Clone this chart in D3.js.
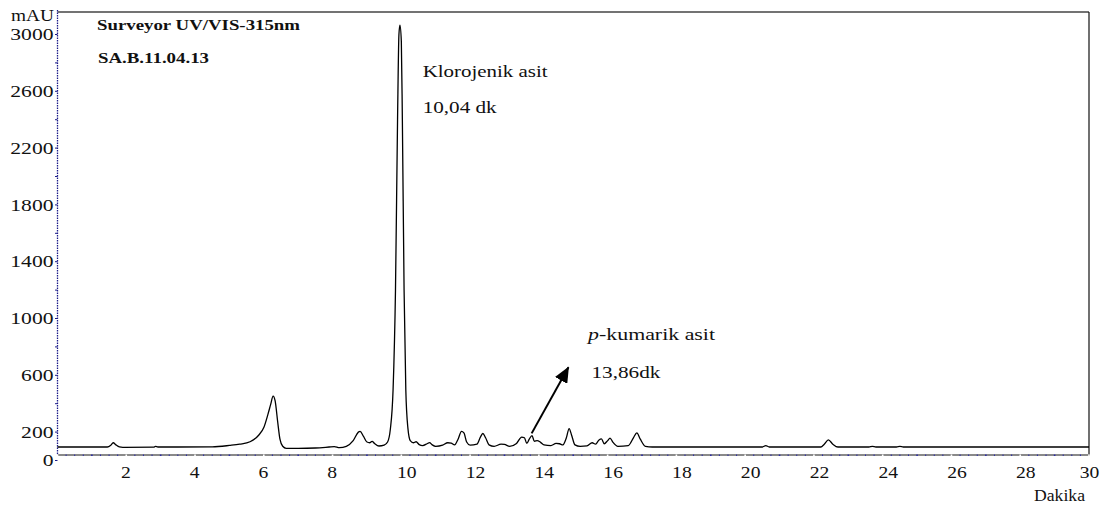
<!DOCTYPE html>
<html>
<head>
<meta charset="utf-8">
<script src="https://cdn.jsdelivr.net/npm/d3@7"></script>
<style>
  html, body { margin: 0; padding: 0; background: #fff; }
  svg text { font-family: "Liberation Serif", "Times New Roman", serif; fill: #111; }
</style>
</head>
<body>
<svg id="chart" width="1104" height="509"></svg>
<script>
// Kromatogram verisi (dakika, mAU)
const times = [0, 1.45, 1.55, 1.62, 1.7, 1.8, 1.9, 2.8, 2.85, 2.92, 3.5, 4.5,
  5.0, 5.3, 5.6, 5.85, 6.0, 6.12, 6.2, 6.27, 6.33, 6.4, 6.47, 6.55, 6.65, 7.0, 7.5,
  7.9, 8.05, 8.2, 8.4, 8.6, 8.75, 8.8, 8.9, 9.0, 9.08, 9.15, 9.22, 9.35, 9.5,
  9.6, 9.68, 9.76, 9.83, 9.89, 9.93, 9.96, 10.0, 10.03, 10.08, 10.13, 10.19, 10.26,
  10.35, 10.43, 10.52, 10.62, 10.75, 10.82, 10.9, 11.0, 11.2, 11.35, 11.45, 11.55,
  11.65, 11.75, 11.82, 11.9, 12.0, 12.2, 12.3, 12.37, 12.45, 12.55, 12.7, 12.9, 13.0,
  13.15, 13.35, 13.5, 13.58, 13.65, 13.72, 13.8, 13.87, 13.95, 14.05, 14.15, 14.35,
  14.5, 14.6, 14.7, 14.8, 14.88, 14.95, 15.05, 15.2, 15.4, 15.55, 15.65, 15.75, 15.82,
  15.9, 16.0, 16.07, 16.15, 16.3, 16.6, 16.75, 16.85, 16.95, 17.1, 17.3, 18.0, 19.0,
  20.5, 20.6, 20.7, 21.5, 22.2, 22.3, 22.42, 22.55, 22.7, 23.6, 23.7, 23.8, 24.4,
  24.5, 24.6, 30];
const mAU = [95, 95, 108, 125, 110, 96, 93, 94, 100, 95, 95, 96,
  106, 115, 132, 178, 232, 325, 395, 454, 420, 280, 150, 100, 86, 86, 88,
  95, 98, 90, 100, 140, 200, 205, 170, 130, 125, 135, 120, 102, 108,
  130, 220, 500, 1200, 2400, 3000, 3065, 2950, 2400, 1200, 500, 230, 140,
  125, 132, 112, 105, 118, 126, 110, 100, 108, 125, 122, 110,
  150, 205, 195, 130, 108, 115, 165, 190, 160, 110, 100, 115, 113,
  100, 120, 165, 160, 120, 150, 175, 135, 140, 128, 110, 105,
  120, 118, 110, 160, 225, 180, 110, 100, 103, 125, 115, 145, 152,
  118, 140, 158, 130, 100, 105, 160, 195, 150, 100, 95, 95, 95,
  95, 105, 95, 95, 95, 115, 145, 115, 95, 95, 99, 95, 95,
  99, 95, 95];

const xTicks = [2, 4, 6, 8, 10, 12, 14, 16, 18, 20, 22, 24, 26, 28, 30];
const yTicks = [0, 200, 600, 1000, 1400, 1800, 2200, 2600, 3000];
const yMinor = d3.range(0, 3001, 200);

const titleLines = ["Surveyor UV/VIS-315nm", "SA.B.11.04.13"];
const peakLabels = [
  { t: 10.62, v: 2700, lines: ["Klorojenik asit"] },
  { t: 10.62, v: 2447, lines: ["10,04 dk"] }
];
const arrowFrom = [13.79, 191];
const arrowTo = [14.86, 656];

const svg = d3.select("#chart");
const plotLeft = 57.5, plotRight = 1089, plotTop = 12, axisY = 455;

const x = d3.scaleLinear().domain([0, 30]).range([plotLeft, plotRight]);
const y = d3.scaleLinear().domain([0, 3000]).range([460.5, 34.5]);

// text genisligini resimdeki gibi ayarla
function stretch(sel, w) {
  sel.attr("textLength", w).attr("lengthAdjust", "spacingAndGlyphs");
}

// cerceve
svg.append("line")
  .attr("x1", plotLeft).attr("x2", plotRight).attr("y1", plotTop).attr("y2", plotTop)
  .attr("stroke", "#444").attr("stroke-width", 1.5);
svg.append("line")
  .attr("x1", plotRight).attr("x2", plotRight).attr("y1", plotTop).attr("y2", axisY)
  .attr("stroke", "#111").attr("stroke-width", 1.2);

// x ekseni
svg.append("line")
  .attr("x1", plotLeft).attr("x2", plotRight + 1).attr("y1", axisY).attr("y2", axisY)
  .attr("stroke", "#8a8a8a").attr("stroke-width", 2);
svg.append("g").selectAll("line")
  .data(d3.range(0, 30.01, 0.25))
  .enter().append("line")
  .attr("x1", d => x(d)).attr("x2", d => x(d))
  .attr("y1", axisY - 0.5).attr("y2", axisY + 1)
  .attr("stroke", d => d % 2 === 0 ? "#fff" : "#2a2aa8")
  .attr("stroke-width", d => d % 1 === 0 ? 1.6 : 1);

const xAxis = svg.append("g")
  .attr("transform", `translate(0,${axisY})`)
  .call(d3.axisBottom(x).tickValues(xTicks).tickSize(0).tickPadding(12));
xAxis.select(".domain").remove();
xAxis.selectAll("text")
  .attr("font-size", 16)
  .attr("dx", d => d < 10 ? -1 : (d === 30 ? 0 : 5))
  .each(function(d) { stretch(d3.select(this), String(d).length * 9.8); });

svg.append("text")
  .attr("x", 1034).attr("y", 501)
  .attr("font-size", 16)
  .text("Dakika")
  .call(stretch, 51);

// y ekseni
svg.append("line")
  .attr("x1", plotLeft).attr("x2", plotLeft).attr("y1", plotTop - 2).attr("y2", axisY)
  .attr("stroke", "#1c1c8a").attr("stroke-width", 1.3)
  .attr("stroke-dasharray", "1.5,1");
svg.append("g").selectAll("line")
  .data(yMinor)
  .enter().append("line")
  .attr("x1", plotLeft - 2.5).attr("x2", plotLeft)
  .attr("y1", d => y(d)).attr("y2", d => y(d))
  .attr("stroke", "#1c1c8a").attr("stroke-width", 1);

const yAxis = svg.append("g")
  .attr("transform", `translate(${plotLeft},0)`)
  .call(d3.axisLeft(y).tickValues(yTicks).tickFormat(d3.format("d"))
    .tickSize(0).tickPadding(4));
yAxis.select(".domain").remove();
yAxis.selectAll("text")
  .attr("font-size", 16)
  .each(function(d) { stretch(d3.select(this), String(d).length * 10.8); });

svg.append("text")
  .attr("x", 54).attr("y", 21)
  .attr("text-anchor", "end")
  .attr("font-size", 16)
  .text("mAU")
  .call(stretch, 43);

// basliklar
svg.append("text")
  .attr("x", 97).attr("y", 29.5)
  .attr("font-size", 14).attr("font-weight", "bold")
  .text(titleLines[0])
  .call(stretch, 203);
svg.append("text")
  .attr("x", 98).attr("y", 63)
  .attr("font-size", 14).attr("font-weight", "bold")
  .text(titleLines[1])
  .call(stretch, 111);

// kromatogram cizgisi
const pts = times.map((t, i) => [t, mAU[i]]);
const line = d3.line()
  .x(d => x(d[0]))
  .y(d => y(d[1]))
  .curve(d3.curveMonotoneX);

svg.append("path")
  .datum(pts)
  .attr("d", line)
  .attr("fill", "none")
  .attr("stroke", "#000")
  .attr("stroke-width", 1.3)
  .attr("stroke-linejoin", "round");

// pik etiketleri
svg.append("text")
  .attr("x", x(peakLabels[0].t)).attr("y", y(peakLabels[0].v))
  .attr("font-size", 17)
  .text(peakLabels[0].lines[0])
  .call(stretch, 125);
svg.append("text")
  .attr("x", x(peakLabels[1].t)).attr("y", y(peakLabels[1].v))
  .attr("font-size", 17)
  .text(peakLabels[1].lines[0])
  .call(stretch, 74);

const pk = svg.append("text")
  .attr("x", x(15.43)).attr("y", y(849))
  .attr("font-size", 17);
pk.append("tspan").attr("font-style", "italic").text("p");
pk.append("tspan").text("-kumarik asit");
pk.call(stretch, 127);

svg.append("text")
  .attr("x", x(15.53)).attr("y", y(581))
  .attr("font-size", 17)
  .text("13,86dk")
  .call(stretch, 69);

// ok
svg.append("defs").append("marker")
  .attr("id", "head")
  .attr("markerUnits", "userSpaceOnUse")
  .attr("viewBox", "0 0 16 14")
  .attr("markerWidth", 16).attr("markerHeight", 14)
  .attr("refX", 15).attr("refY", 7)
  .attr("orient", "auto")
  .append("path")
  .attr("d", "M0,0 L16,7 L0,14 Z")
  .attr("fill", "#000");

svg.append("line")
  .attr("x1", x(arrowFrom[0])).attr("y1", y(arrowFrom[1]))
  .attr("x2", x(arrowTo[0])).attr("y2", y(arrowTo[1]))
  .attr("stroke", "#000").attr("stroke-width", 2)
  .attr("marker-end", "url(#head)");
</script>
</body>
</html>
